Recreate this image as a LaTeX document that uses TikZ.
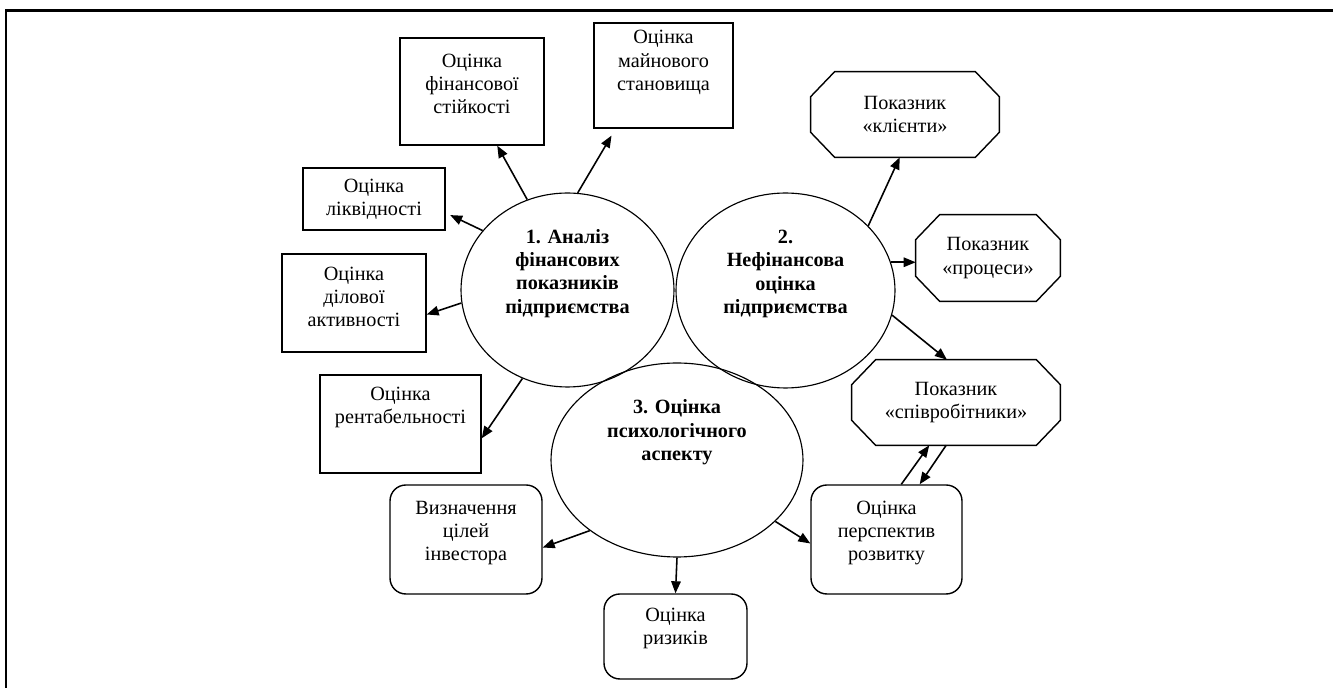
\documentclass[tikz,border=0pt]{standalone}
\usepackage{fontspec}
\setmainfont{Liberation Serif}
\usepackage{tikz}
\usetikzlibrary{calc,arrows.meta,shapes.geometric}

% octagon outline round a named node
\newcommand\octframe[1]{%
    \draw[boxline] ($(#1.north west)+(24,0)$) -- ($(#1.north east)+(-24,0)$)
        -- ($(#1.north east)+(0,25)$) -- ($(#1.south east)+(0,-25)$)
        -- ($(#1.south east)+(-24,0)$) -- ($(#1.south west)+(24,0)$)
        -- ($(#1.south west)+(0,-25)$) -- ($(#1.north west)+(0,25)$) -- cycle;}

\begin{document}
\begin{tikzpicture}[x=0.02cm, y=-0.02cm,
        every node/.style={font=\fontsize{11.5}{13.2}\selectfont, align=center, inner sep=0pt},
        boxline/.style={line width=0.8pt},
        rectbox/.style={draw, boxline, rectangle},
        roundbox/.style={draw, boxline, rectangle, rounded corners=9pt},
        octbox/.style={rectangle},
        oval/.style={draw, ellipse, line width=0.65pt, font=\fontsize{11.5}{13.2}\selectfont\bfseries},
        arr/.style={-{Triangle[length=2.4mm,width=1.9mm]}, line width=0.9pt}]
                \useasboundingbox (0,0) rectangle (1333,688);
                \draw[line width=1.4pt] (6,688) -- (6,10.5) -- (1333,10.5);

                % Main ovals
                \node[oval, minimum width=4.26cm, minimum height=3.88cm, text depth=0.75cm] (e1) at (567.5,290)
                    {1. Аналіз\\фінансових\\показників\\підприємства};
                \node[oval, minimum width=4.38cm, minimum height=3.90cm, text depth=0.75cm] (e2) at (785.5,290.5)
                    {2.\\Нефінансова\\оцінка\\підприємства};
                \node[oval, minimum width=5.04cm, minimum height=3.88cm, text depth=1.2cm] (e3) at (677,460)
                    {3. Оцінка\\психологічного\\аспекту};

                % Financial indicators
                \node[rectbox, minimum width=2.88cm, minimum height=2.14cm, text depth=0.3cm] (r1) at (472,91.5)
                    {Оцінка\\фінансової\\стійкості};
                \node[rectbox, minimum width=2.78cm, minimum height=2.10cm, text depth=0.6cm] (r2) at (663.5,75.5)
                    {Оцінка\\майнового\\становища};
                \node[rectbox, minimum width=2.84cm, minimum height=1.24cm] (r3) at (374,199)
                    {Оцінка\\ліквідності};
                \node[rectbox, minimum width=2.88cm, minimum height=1.96cm, text depth=0.25cm] (r4) at (354,303)
                    {Оцінка\\ділової\\активності};
                \node[rectbox, minimum width=3.22cm, minimum height=1.96cm, text depth=0.75cm] (r5) at (400.5,424)
                    {Оцінка\\рентабельності};

                % Non-financial indicators
                \node[octbox, minimum width=3.76cm, minimum height=1.70cm] (o1) at (905,114.5)
                    {Показник\\«клієнти»};
                \node[octbox, minimum width=2.88cm, minimum height=1.72cm] (o2) at (988,258)
                    {Показник\\«процеси»};
                \node[octbox, minimum width=4.16cm, minimum height=1.70cm] (o3) at (956,402.5)
                    {Показник\\«співробітники»};
                \octframe{o1}
                \octframe{o2}
                \octframe{o3}

                % Psychological aspect
                \node[roundbox, minimum width=3.04cm, minimum height=2.18cm, text depth=0.35cm] (b1) at (466,539.5)
                    {Визначення\\цілей\\інвестора};
                \node[roundbox, minimum width=2.86cm, minimum height=1.70cm, text depth=0.4cm] (b2) at (675.5,636.5)
                    {Оцінка\\ризиків};
                \node[roundbox, minimum width=3.02cm, minimum height=2.18cm, text depth=0.35cm] (b3) at (886.5,539.5)
                    {Оцінка\\перспектив\\розвитку};

                % Arrows
                \draw[arr] (e1.114) -- (r1.-65);
                \draw[arr, shorten >=0.16cm] (e1.84) -- (r2.-132);
                \draw[arr, shorten >=0.1cm] (e1.145) -- (r3.-11);
                \draw[arr] (e1.187) -- (r4.-9);
                \draw[arr] (e1.243) -- (r5.-10);
                \draw[arr] (e2.38) -- (o1.-97);
                \draw[arr] (e2.15) -- (e2.15 -| o2.west);
                \draw[arr] (e2.-13) -- (o3.102);
                \draw[arr] (b3.75) -- (o3.-122);
                \draw[arr] (o3.-103) -- (b3.59);
                \draw[arr] (e3.219) -- (b1.-6);
                \draw[arr] (e3.south) -- (b2.north);
                \draw[arr] (e3.-32) -- (b3.183);
            \end{tikzpicture}
\end{document}
